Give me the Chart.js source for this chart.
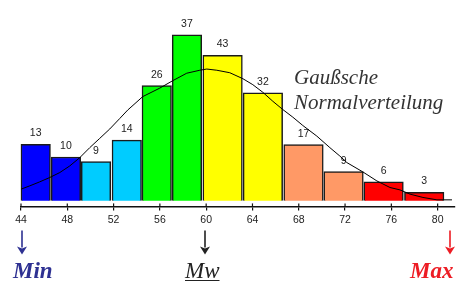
<!DOCTYPE html>
<html lang="de">
<head>
<meta charset="utf-8">
<title>Histogramm mit Gaußscher Normalverteilung</title>
<script src="https://cdn.jsdelivr.net/npm/chart.js"></script>
<style>
  html, body { margin: 0; padding: 0; background: #fff; }
  #wrap { position: relative; width: 456px; height: 284px; overflow: hidden; }
  #chart { position: absolute; left: 0; top: 0; }
  .note { position: absolute; font-family: "Liberation Serif", "Times New Roman", serif; font-style: italic; white-space: nowrap; }
  #gauss { left: 294px; top: 65px; font: italic 21px/25px "Liberation Serif", "Times New Roman", serif; color: #333; }
  .mark { position: absolute; font-size: 23px; line-height: 23px; top: 259px; }
  #min { left: 13px; color: #2e3192; font-weight: bold; }
  #mw { left: 185px; color: #222; text-decoration: underline; text-decoration-thickness: 1px; text-underline-offset: 2px; }
  #max { left: 410px; color: #ed1c24; font-weight: bold; }
  svg.arrow { position: absolute; top: 230px; width: 12px; height: 25px; }
</style>
</head>
<body>
<div id="wrap">
  <canvas id="chart" width="456" height="284"></canvas>
  <div class="note" id="gauss">Gaußsche<br>Normalverteilung</div>

  <svg class="arrow" style="left:16px" viewBox="0 0 12 25"><path d="M5.2 0.5h1.6v17h-1.6z M1 16.5 L6 24.5 L11 16.5 L6 18.5 Z" fill="#2e3192"/></svg>
  <svg class="arrow" style="left:199px" viewBox="0 0 12 25"><path d="M5.2 0.5h1.6v17h-1.6z M1 16.5 L6 24.5 L11 16.5 L6 18.5 Z" fill="#222"/></svg>
  <svg class="arrow" style="left:444px" viewBox="0 0 12 25"><path d="M5.2 0.5h1.6v17h-1.6z M1 16.5 L6 24.5 L11 16.5 L6 18.5 Z" fill="#ed1c24"/></svg>

  <div class="note mark" id="min">Min</div>
  <div class="note mark" id="mw">Mw</div>
  <div class="note mark" id="max">Max</div>
</div>

<script>
// --- Daten ---
// Klassenmitten auf der x-Achse
const klassenMitte = [45.27, 47.88, 50.48, 53.14, 55.73, 58.34, 61.42, 64.90, 68.41, 71.87, 75.33, 78.84];
// Häufigkeiten (Beschriftung über den Säulen)
const haeufigkeit = [13, 10, 9, 14, 26, 37, 43, 32, 17, 9, 6, 3];
// Säulenhöhen (Häufigkeitsdichte, breitere Klassen sind niedriger)
const saeulenHoehe = [12.74, 9.89, 8.85, 13.71, 26.0, 37.46, 32.85, 24.36, 12.70, 6.61, 4.27, 1.89];
const kurveX = [44.00, 44.75, 45.61, 46.48, 47.35, 48.21, 49.08, 49.94, 50.80, 51.67, 52.53, 53.22,
  54.52, 55.99, 57.11, 58.32, 59.45, 60.05, 60.92, 62.04, 63.17, 64.03, 64.90, 65.76, 66.62,
  67.49, 68.35, 69.56, 70.69, 71.55, 72.16, 73.54, 74.75, 75.88, 76.74, 77.61, 78.73, 79.94, 81.24];
const kurveY = [2.63, 3.37, 4.27, 5.26, 6.38, 7.87, 9.75, 12.0, 14.09, 16.22, 18.58, 20.49,
  23.53, 25.44, 27.12, 28.81, 29.48, 29.75, 29.48, 28.92, 27.57, 26.22, 24.49, 22.47, 20.61,
  18.88, 17.01, 14.61, 12.0, 10.11, 8.63, 6.52, 4.49, 3.01, 2.47, 1.51, 0.76, 0.22, 0.22];
// Achsenbeschriftung
const achseMin = 44, achseMax = 80, achseSchritt = 4;

// --- Farben ---
const farben = ["#0000ff", "#0000ff", "#00ccff", "#00ccff", "#00ff00", "#00ff00",
  "#ffff00", "#ffff00", "#ff9966", "#ff9966", "#ff0000", "#ff0000"];

const punkte = klassenMitte.map((x, i) => ({ x, y: saeulenHoehe[i] }));
const kurve = kurveX.map((x, i) => ({ x, y: kurveY[i] }));

// Zahlen über den Säulen
const saeulenZahlen = {
  id: "saeulenZahlen",
  afterDatasetDraw(chart, args) {
    const ds = chart.data.datasets[args.index];
    if (ds.type !== "bar") return;
    const ctx = chart.ctx;
    ctx.save();
    ctx.font = "10.5px 'Liberation Sans', Arial, sans-serif";
    ctx.fillStyle = "#222";
    ctx.textAlign = "center";
    ctx.textBaseline = "alphabetic";
    args.meta.data.forEach((bar, i) => {
      ctx.fillText(String(ds.counts[i]), bar.x, bar.y - 8);
    });
    ctx.restore();
  },
};

// Teilstriche, die die Achse kreuzen
const teilstriche = {
  id: "teilstriche",
  afterDraw(chart) {
    const sx = chart.scales.x;
    const ctx = chart.ctx;
    const yb = chart.chartArea.bottom;
    ctx.save();
    ctx.strokeStyle = "#111";
    ctx.lineWidth = 1.2;
    sx.ticks.forEach((t) => {
      const px = sx.getPixelForValue(t.value);
      ctx.beginPath();
      ctx.moveTo(px, yb - 3);
      ctx.lineTo(px, yb);
      ctx.stroke();
    });
    ctx.restore();
  },
};

new Chart(document.getElementById("chart"), {
  data: {
    datasets: [
      {
        type: "bar",
        data: punkte.slice(0, 6),
        counts: haeufigkeit.slice(0, 6),
        backgroundColor: farben.slice(0, 6),
        borderColor: "#1a1a1a",
        borderWidth: 1.5,
        barThickness: 29.5,
        grouped: false,
        clip: false,
        order: 2,
      },
      {
        type: "bar",
        data: punkte.slice(6),
        counts: haeufigkeit.slice(6),
        backgroundColor: farben.slice(6),
        borderColor: "#1a1a1a",
        borderWidth: 1.5,
        barThickness: 39.5,
        grouped: false,
        clip: false,
        order: 2,
      },
      {
        type: "line",
        data: kurve,
        borderColor: "#000",
        borderWidth: 1,
        pointRadius: 0,
        tension: 0,
        fill: false,
        clip: false,
        order: 0,
      },
    ],
  },
  options: {
    responsive: false,
    animation: false,
    devicePixelRatio: 1,
    layout: { padding: { left: 21, right: 1, top: 10, bottom: 55 } },
    plugins: { legend: { display: false }, tooltip: { enabled: false } },
    scales: {
      x: {
        type: "linear",
        offset: false,
        min: achseMin,
        max: 81.5,
        border: { display: true, color: "#111", width: 1.5 },
        grid: { offset: false, drawOnChartArea: false, drawTicks: true, tickLength: 4, color: "#111", lineWidth: 1.2 },
        ticks: {
          stepSize: achseSchritt,
          includeBounds: false,
          padding: 3,
          color: "#222",
          font: { family: "'Liberation Sans', Arial, sans-serif", size: 10.5 },
          callback: (v) => (v <= achseMax ? v : ""),
        },
      },
      y: {
        display: false,
        min: -1.26,
        max: 43.08,
      },
    },
  },
  plugins: [saeulenZahlen, teilstriche],
});
</script>
</body>
</html>
